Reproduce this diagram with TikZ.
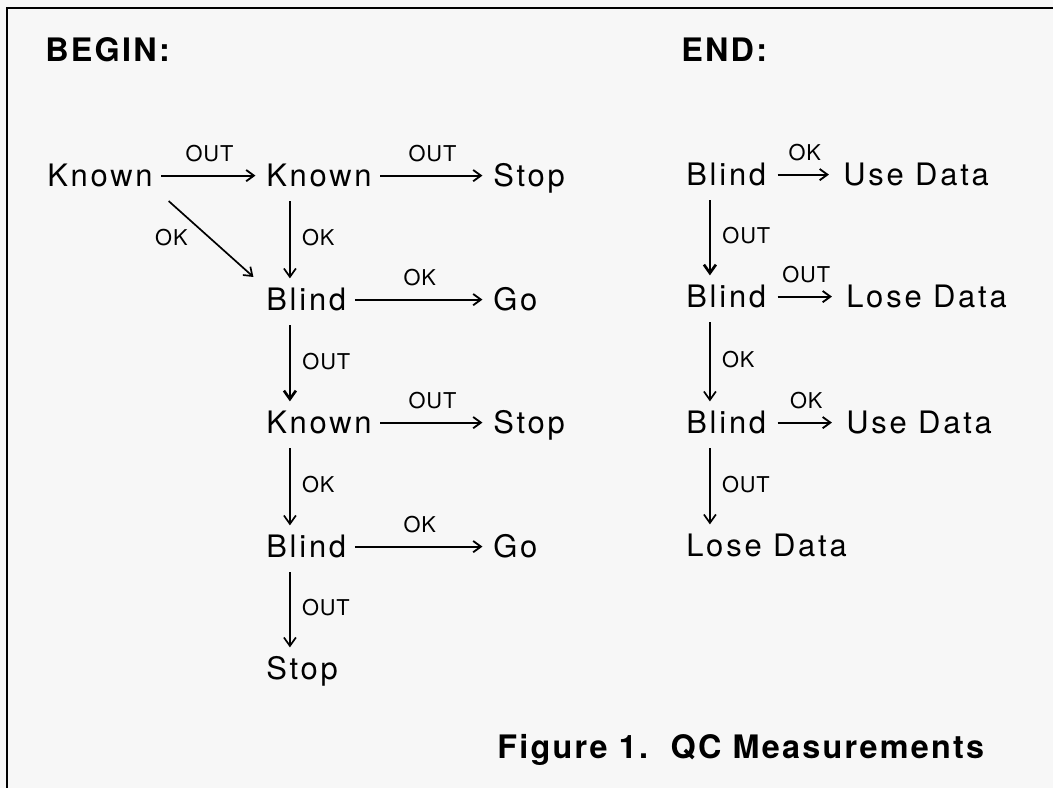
\documentclass[tikz,border=0pt]{standalone}
\usepackage{fontspec}
\setmainfont{TeX Gyre Heros}
\newfontfamily\statefont[LetterSpace=9]{TeX Gyre Heros}
\newfontfamily\labfont[LetterSpace=4]{TeX Gyre Heros}
\newfontfamily\headfont[LetterSpace=7]{TeX Gyre Heros}
\usetikzlibrary{arrows.meta,positioning}
\definecolor{paper}{RGB}{247,247,247}

\begin{document}
\begin{tikzpicture}[x=0.025cm, y=-0.025cm,
		state/.style = {font=\statefont\fontsize{22}{26}\selectfont, inner sep=0pt, text height=15.8pt, text depth=0pt, anchor=south west},
		head/.style  = {font=\headfont\bfseries\fontsize{23}{27}\selectfont, inner sep=0pt, anchor=base west},
		lab/.style   = {font=\labfont\fontsize{15.5}{18}\selectfont, inner sep=0pt},
		hop/.style   = {-{Straight Barb[length=5.5pt,width=8pt]}, line width=1.3pt, shorten <=6pt, shorten >=7.5pt},
		drop/.style  = {-{Straight Barb[length=6pt,width=8.5pt]}, shorten <=10pt, shorten >=7pt}]
	
	\useasboundingbox (0,0) rectangle (1053,788);
	\fill[paper] (0,0) rectangle (1053,788);
	\draw[line width=1.5pt] (7,788) -- (7,8) -- (1053,8);
	
	\node[head] (begin) at (45,62) {BEGIN:};
	\node[head] (finish) at (681,62) {END:};
	
	% begin column
	\node[state] (k1) at (47,187) {Known};
	\node[state] (k2) at (266,187) {Known};
	\node[state] (s1) at (493,187) {Stop};
	\node[state] (b1) at (266,311) {Blind};
	\node[state] (g1) at (493,311) {Go};
	\node[state] (k3) at (266,434) {Known};
	\node[state] (s2) at (493,434) {Stop};
	\node[state] (b2) at (266,558) {Blind};
	\node[state] (g2) at (493,558) {Go};
	\node[state] (s3) at (266,680) {Stop};
	
	% end column
	\node[state] (rb1) at (686,186) {Blind};
	\node[state] (ru1) at (843,186) {Use Data};
	\node[state] (rb2) at (686,308) {Blind};
	\node[state] (rl1) at (846,308) {Lose Data};
	\node[state] (rb3) at (686,434) {Blind};
	\node[state] (ru2) at (846,434) {Use Data};
	\node[state] (rl2) at (686,557) {Lose Data};
	
	\node[head] (caption) at (497,758) {Figure 1.~~QC Measurements};
	
	\foreach \a/\b/\t in {k1/k2/OUT, k2/s1/OUT, b1/g1/OK, k3/s2/OUT, b2/g2/OK}
	\draw[hop] (\a.east) -- (\b.west) node[lab, midway, above=9pt] {\t};
	
	\foreach \a/\b/\t in {rb1/ru1/OK, rb2/rl1/OUT, rb3/ru2/OK}
	\draw[hop, shorten <=8pt, shorten >=10pt] (\a.east) -- (\b.west) node[lab, midway, above=9pt] {\t};
	
	\foreach \a/\b/\t/\w in {k2/b1/OK/1.2pt, b1/k3/OUT/1.9pt, k3/b2/OK/1.2pt, b2/s3/OUT/1.2pt,
		rb1/rb2/OUT/1.9pt, rb2/rb3/OK/1.2pt, rb3/rl2/OUT/1.2pt}
	\draw[drop, line width=\w] ([xshift=17pt]\a.south west) -- ([xshift=17pt]\b.north west) node[lab, midway, right=8pt] {\t};
	
	\draw[hop, line width=1.2pt, shorten <=15pt, shorten >=12pt] (k1.south east) -- (b1.north west) node[lab, midway, left=15pt] {OK};
\end{tikzpicture}
\end{document}
